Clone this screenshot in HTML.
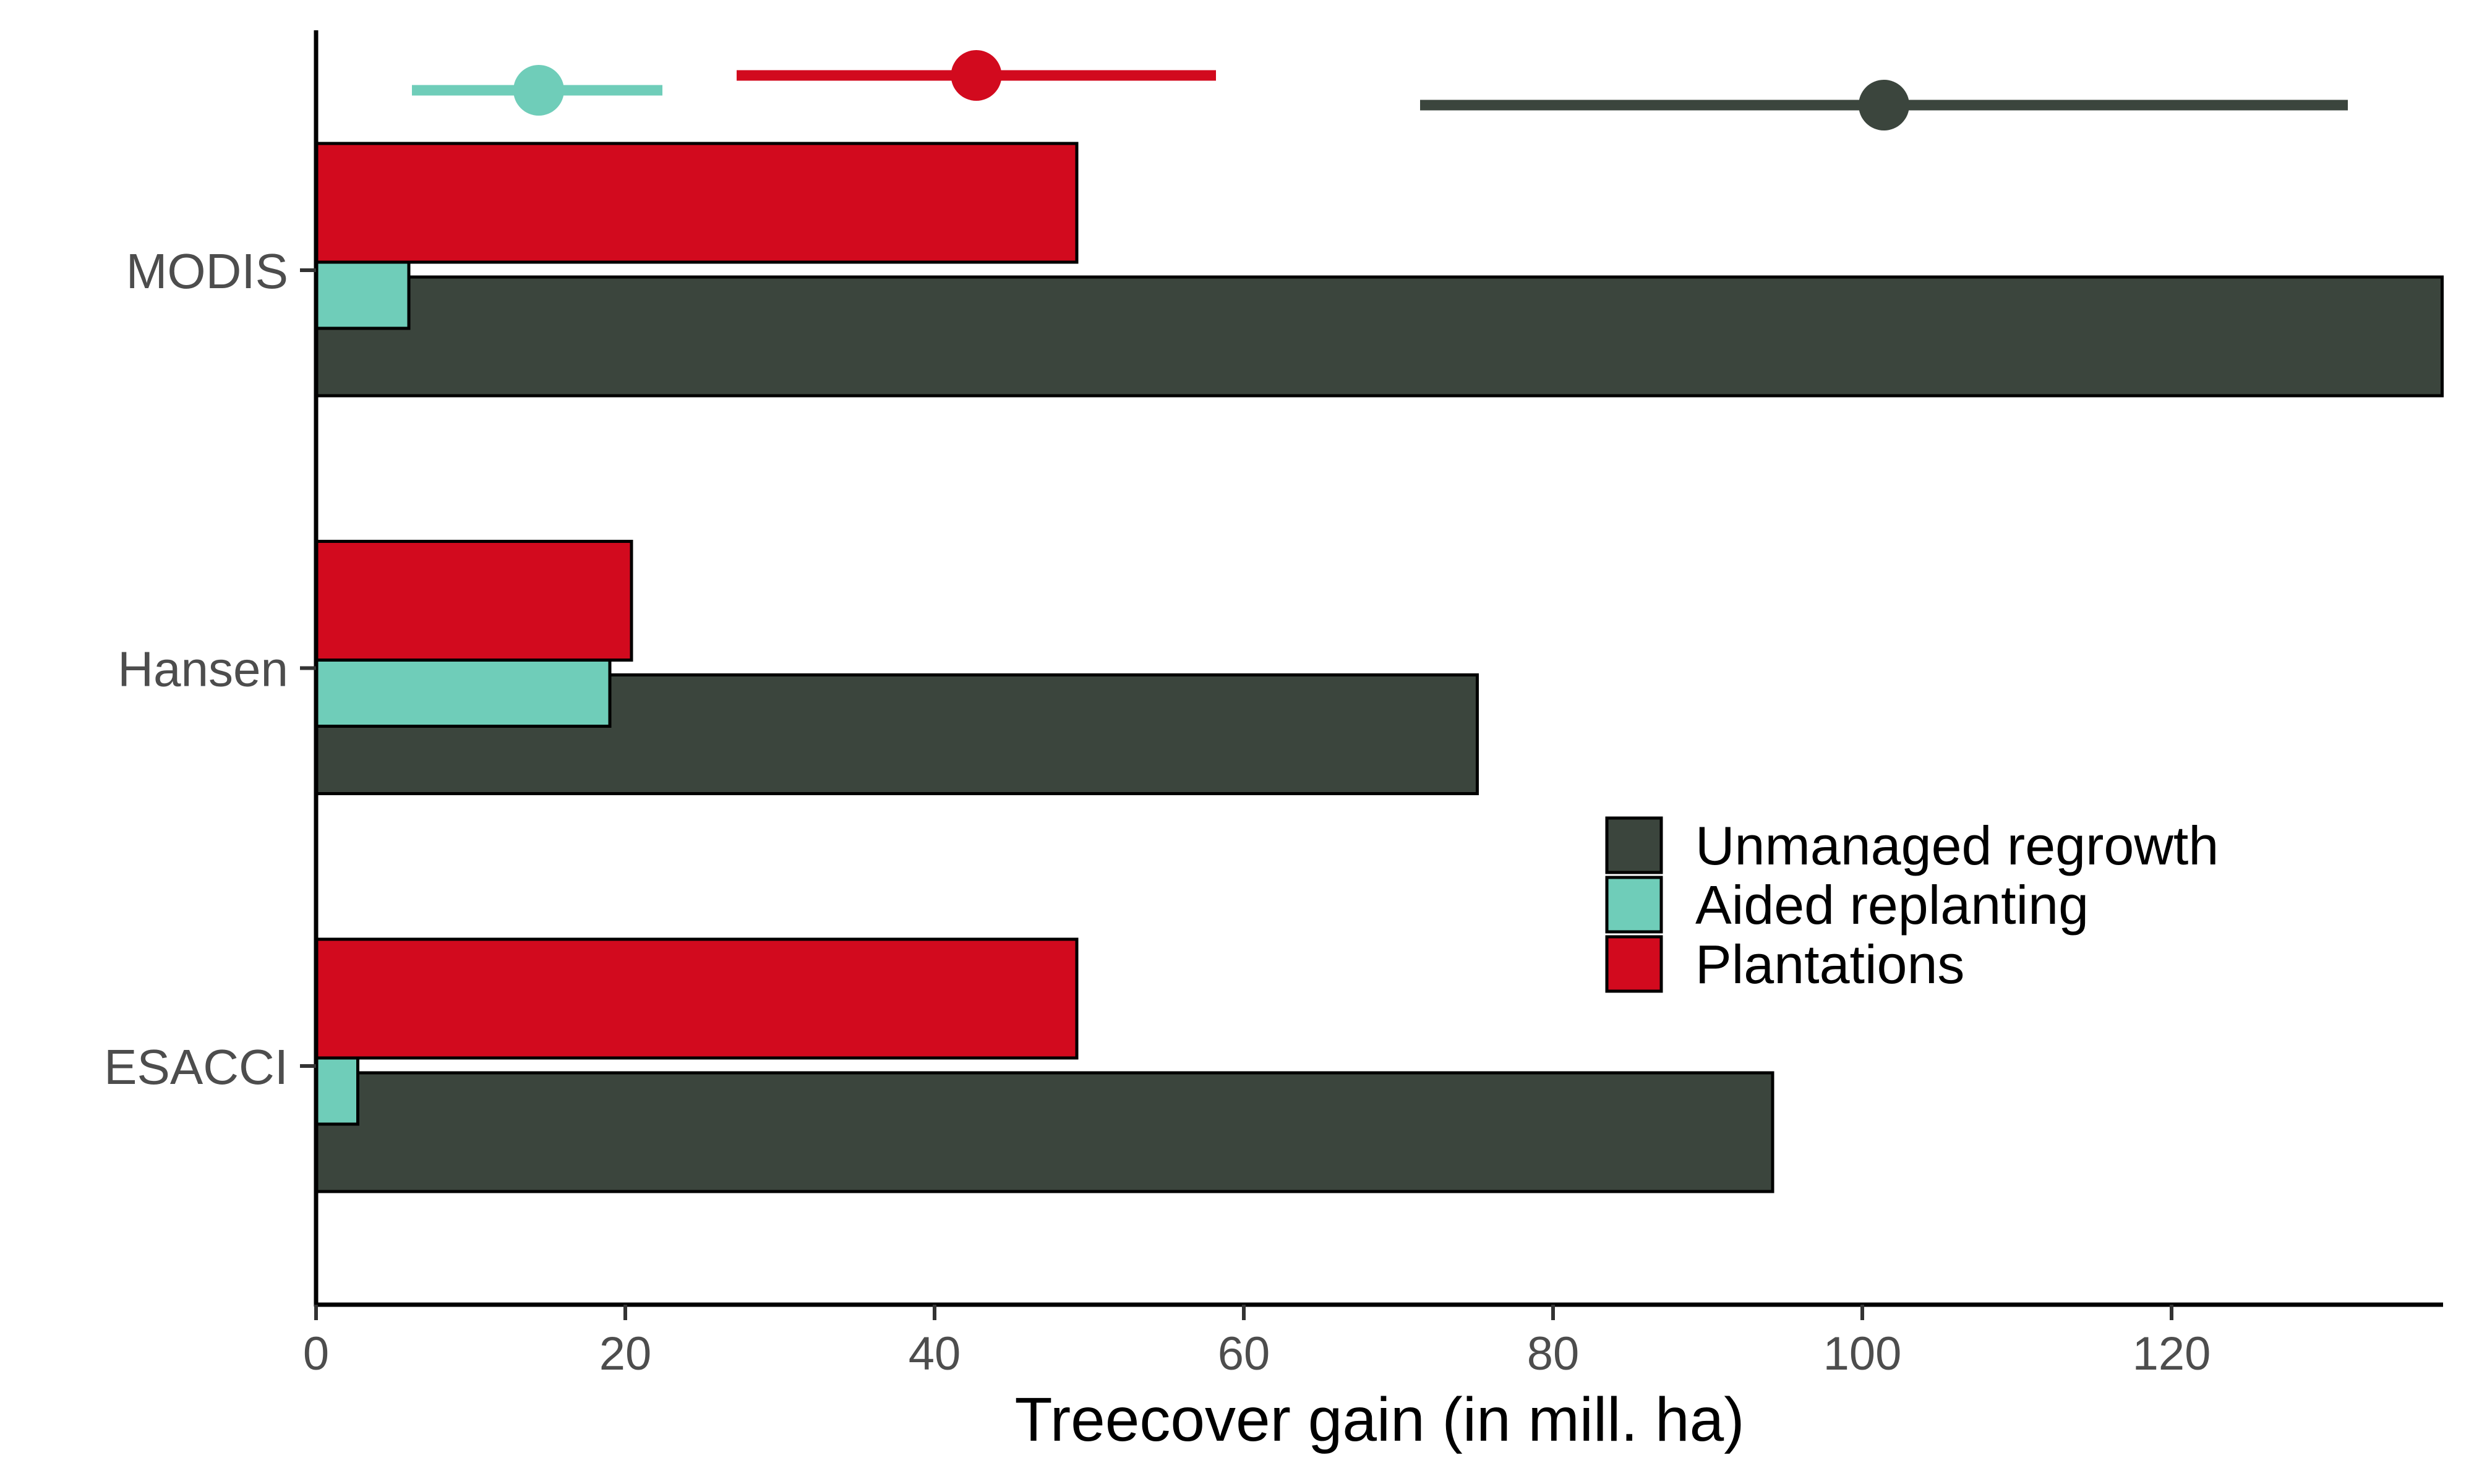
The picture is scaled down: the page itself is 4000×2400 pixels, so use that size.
<!DOCTYPE html>
<html><head><meta charset="utf-8"><style>
html,body{margin:0;padding:0;background:#fff;}
svg{display:block;font-family:"Liberation Sans",Arial,sans-serif;}
</style></head><body>
<svg id="chart" width="4000" height="2400" viewBox="0 0 4000 2400">
<g id="bars"></g>
<g id="errs"></g>
<g id="axes"></g>
<g id="legend"></g>
</svg>
<script>
const categories = ["MODIS", "Hansen", "ESACCI"];
const unmanaged = [137.5, 75.1, 94.2];
const aided = [6.0, 19.0, 2.7];
const plantations = [49.2, 20.4, 49.2];
const rangeLow = [6.2, 27.2, 71.4];
const rangeMid = [14.4, 42.7, 101.4];
const rangeHigh = [22.4, 58.2, 131.4];
const rangeColors = ["#6fcdb9", "#d20a1e", "#3b453d"];
const xTicks = [0, 20, 40, 60, 80, 100, 120];

const NS = "http://www.w3.org/2000/svg";
const X0 = 511, XR = 3950, PER = 25;
const x = v => X0 + v * PER;
const yCat = i => 437 + i * 643.5;
function mk(tag, attrs, parent) {
  const e = document.createElementNS(NS, tag);
  for (const k in attrs) e.setAttribute(k, attrs[k]);
  parent.appendChild(e);
  return e;
}
const bars = document.getElementById("bars");
const errs = document.getElementById("errs");
const axes = document.getElementById("axes");
const legend = document.getElementById("legend");

categories.forEach((c, i) => {
  const t = yCat(i);
  let r = mk("rect", {x: x(0), y: t + 11, width: x(unmanaged[i]) - x(0), height: 192, fill: "#3b453d", stroke: "#000", "stroke-width": 5}, bars);
  
  
  r = mk("rect", {x: x(0), y: t - 205, width: x(plantations[i]) - x(0), height: 192, fill: "#d20a1e", stroke: "#000", "stroke-width": 5}, bars);
  
  
  r = mk("rect", {x: x(0), y: t - 13, width: x(aided[i]) - x(0), height: 107, fill: "#6fcdb9", stroke: "#000", "stroke-width": 5}, bars);
  
  
});

const errY = [146, 122, 170];
rangeLow.forEach((lo, i) => {
  const l = mk("line", {x1: x(lo), x2: x(rangeHigh[i]), y1: errY[i], y2: errY[i], stroke: rangeColors[i], "stroke-width": 17}, errs);
  
  
  const d = mk("circle", {cx: x(rangeMid[i]), cy: errY[i], r: 41, fill: rangeColors[i]}, errs);
  
  
});

let a = mk("line", {x1: X0, x2: X0, y1: 49, y2: 2113, stroke: "#000", "stroke-width": 7}, axes);


a = mk("line", {x1: X0 - 3, x2: XR, y1: 2110, y2: 2110, stroke: "#000", "stroke-width": 7}, axes);



categories.forEach((c, i) => {
  const t = mk("line", {x1: 485, x2: X0, y1: yCat(i), y2: yCat(i), stroke: "#333", "stroke-width": 6}, axes);
  
  
  const l = mk("text", {x: 466, y: yCat(i) + 29, "text-anchor": "end", "font-size": 80, fill: "#4d4d4d"}, axes);
  l.textContent = c;
  
  
});
xTicks.forEach(v => {
  const t = mk("line", {x1: x(v), x2: x(v), y1: 2110, y2: 2135, stroke: "#333", "stroke-width": 6}, axes);
  
  
  const l = mk("text", {x: x(v), y: 2215, "text-anchor": "middle", "font-size": 76, fill: "#4d4d4d"}, axes);
  l.textContent = v;
  
  
});
const title = mk("text", {x: (X0 + XR) / 2, y: 2330, "text-anchor": "middle", "font-size": 100, fill: "#000"}, axes);
title.textContent = "Treecover gain (in mill. ha)";



const legLabels = ["Unmanaged regrowth", "Aided replanting", "Plantations"];
const legColors = ["#3b453d", "#6fcdb9", "#d20a1e"];
legLabels.forEach((lab, i) => {
  const top = 1321 + i * 96;
  const k = mk("rect", {x: 2598, y: top + 2, width: 88, height: 88, fill: legColors[i], stroke: "#000", "stroke-width": 5}, legend);
  
  
  const t = mk("text", {x: 2741, y: top + 77, "font-size": 88, fill: "#000"}, legend);
  t.textContent = lab;
  
  
});
</script>
</body></html>
